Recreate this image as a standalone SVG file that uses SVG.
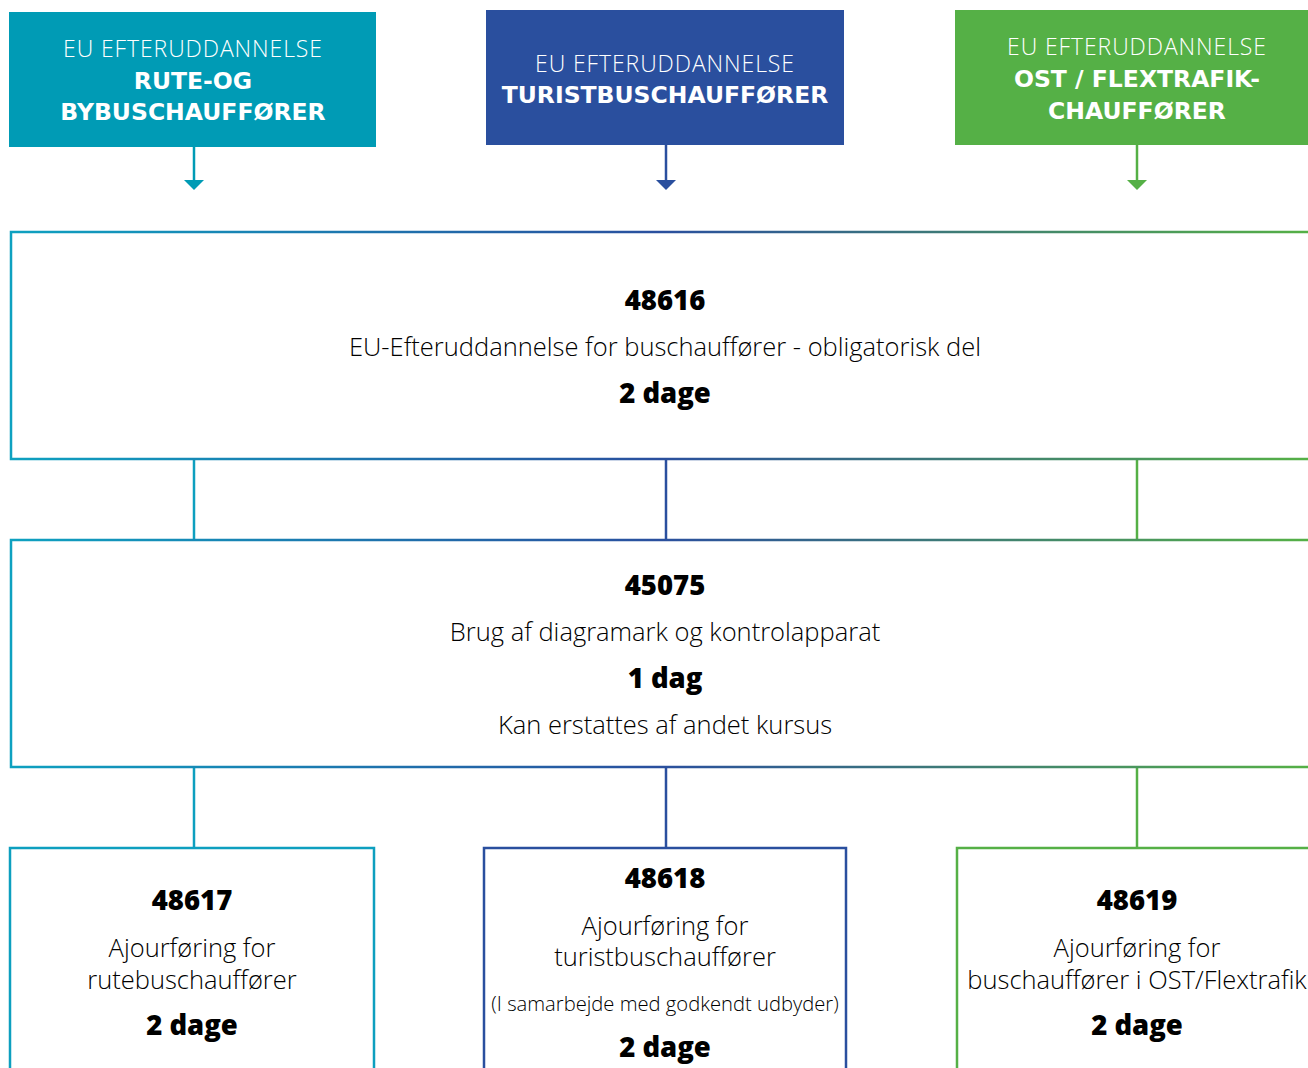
<svg xmlns="http://www.w3.org/2000/svg" width="1308" height="1068" viewBox="0 0 1308 1068">
<defs>
<linearGradient id="grad" gradientUnits="userSpaceOnUse" x1="11" y1="0" x2="1308" y2="0">
<stop offset="0" stop-color="#0ea1c0"/>
<stop offset="0.5" stop-color="#2a4f9e"/>
<stop offset="1" stop-color="#55b046"/>
</linearGradient>
</defs>
<style>
.hl{font-family:"Open Sans","Noto Sans",sans-serif;font-weight:300;font-size:23px;letter-spacing:0.9px;fill:#fff;text-anchor:middle}
.hb{font-family:"DejaVu Sans",sans-serif;font-weight:700;font-size:23.5px;fill:#fff;text-anchor:middle}
.b{font-family:"Open Sans","Noto Sans",sans-serif;font-weight:800;font-size:27.5px;fill:#000;text-anchor:middle}
.r{font-family:"Open Sans","Noto Sans",sans-serif;font-weight:300;font-size:25.5px;fill:#000;text-anchor:middle}
.s{font-family:"Open Sans","Noto Sans",sans-serif;font-weight:300;font-size:20.2px;fill:#000;text-anchor:middle}
.big{fill:#fff;stroke:url(#grad);stroke-width:2.5}
.c{stroke-width:2.5;fill:none}
</style>
<rect width="1308" height="1068" fill="#fff"/>

<g id="connectors">
<line class="c" x1="194" y1="147" x2="194" y2="182" stroke="#009bb5"/>
<path d="M184,180 L204,180 L194,190 Z" fill="#009bb5"/>
<line class="c" x1="666" y1="145" x2="666" y2="182" stroke="#2a4f9e"/>
<path d="M656,180 L676,180 L666,190 Z" fill="#2a4f9e"/>
<line class="c" x1="1137" y1="145" x2="1137" y2="182" stroke="#55b046"/>
<path d="M1127,180 L1147,180 L1137,190 Z" fill="#55b046"/>
<line class="c" x1="194" y1="459" x2="194" y2="540" stroke="#0d9fbf"/>
<line class="c" x1="666" y1="459" x2="666" y2="540" stroke="#2a4f9e"/>
<line class="c" x1="1137" y1="459" x2="1137" y2="540" stroke="#55b046"/>
<line class="c" x1="194" y1="767" x2="194" y2="848" stroke="#0d9fbf"/>
<line class="c" x1="666" y1="767" x2="666" y2="848" stroke="#2a4f9e"/>
<line class="c" x1="1137" y1="767" x2="1137" y2="848" stroke="#55b046"/>
</g>

<g id="top-rute">
<rect x="9" y="12" width="367" height="135" fill="#009bb5"/>
<text class="hl" x="193" y="57">EU EFTERUDDANNELSE</text>
<text class="hb" x="193" y="89">RUTE-OG</text>
<text class="hb" x="193" y="120">BYBUSCHAUFFØRER</text>
</g>

<g id="top-turist">
<rect x="486" y="10" width="358" height="135" fill="#2a4f9e"/>
<text class="hl" x="665" y="72">EU EFTERUDDANNELSE</text>
<text class="hb" x="665" y="103">TURISTBUSCHAUFFØRER</text>
</g>

<g id="top-ost">
<rect x="955" y="10" width="360" height="135" fill="#55b046"/>
<text class="hl" x="1137" y="55">EU EFTERUDDANNELSE</text>
<text class="hb" x="1137" y="87">OST / FLEXTRAFIK-</text>
<text class="hb" x="1137" y="119">CHAUFFØRER</text>
</g>

<g id="n48616">
<rect class="big" x="11" y="232" width="1310" height="227"/>
<text class="b" x="665" y="310">48616</text>
<text class="r" x="665" y="356">EU-Efteruddannelse for buschauffører - obligatorisk del</text>
<text class="b" x="665" y="403">2 dage</text>
</g>

<g id="n45075">
<rect class="big" x="11" y="540" width="1310" height="227"/>
<text class="b" x="665" y="595">45075</text>
<text class="r" x="665" y="641">Brug af diagramark og kontrolapparat</text>
<text class="b" x="665" y="688">1 dag</text>
<text class="r" x="665" y="734">Kan erstattes af andet kursus</text>
</g>

<g id="n48617">
<rect x="10" y="848" width="364" height="240" fill="#fff" stroke="#0d9fbf" stroke-width="2.5"/>
<text class="b" x="192" y="910">48617</text>
<text class="r" x="192" y="957">Ajourføring for</text>
<text class="r" x="192" y="989">rutebuschauffører</text>
<text class="b" x="192" y="1035">2 dage</text>
</g>

<g id="n48618">
<rect x="484" y="848" width="362" height="240" fill="#fff" stroke="#2a4f9e" stroke-width="2.5"/>
<text class="b" x="665" y="888">48618</text>
<text class="r" x="665" y="935">Ajourføring for</text>
<text class="r" x="665" y="966">turistbuschauffører</text>
<text class="s" x="665" y="1011">(I samarbejde med godkendt udbyder)</text>
<text class="b" x="665" y="1057">2 dage</text>
</g>

<g id="n48619">
<rect x="957" y="848" width="370" height="240" fill="#fff" stroke="#55b046" stroke-width="2.5"/>
<text class="b" x="1137" y="910">48619</text>
<text class="r" x="1137" y="957">Ajourføring for</text>
<text class="r" x="1137" y="989">buschauffører i OST/Flextrafik</text>
<text class="b" x="1137" y="1035">2 dage</text>
</g>
</svg>
